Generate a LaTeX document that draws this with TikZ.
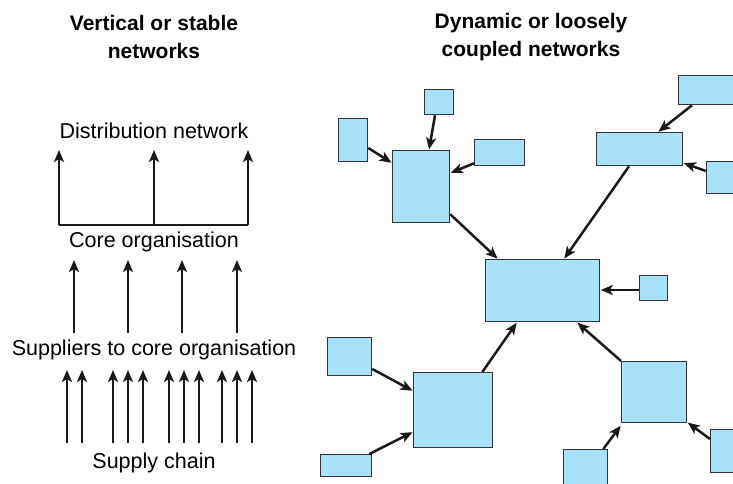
\documentclass[tikz,border=0pt]{standalone}
\usepackage{fontspec}
\setmainfont{Liberation Sans}
\usepackage{tikz}
\usetikzlibrary{arrows.meta,positioning}

\definecolor{boxblue}{RGB}{169,224,250}
\definecolor{boxline}{RGB}{50,52,56}

\tikzset{
  label/.style={font=\fontsize{21.5}{27}\selectfont, inner sep=0pt, align=center},
  head/.style={label, font=\fontsize{21}{28}\selectfont\bfseries},
  arr/.style={-{Stealth[length=12pt, width=10pt, inset=3pt]}, line width=2.5pt, black!90},
  link/.style={arr, shorten <=0pt, shorten >=0.5pt},
  org/.style={draw=boxline, line width=1.3pt, fill=boxblue, anchor=north west,
    inner sep=0pt},
}

\newcommand{\orgbox}[5]{% name, x0, y0, x1, y1
  \node[org, minimum width={#4-#2}, minimum height={#5-#3}] (#1) at (#2,#3) {};}

\begin{document}
\begin{tikzpicture}[x=1pt, y=-1pt]
\useasboundingbox (0,0) rectangle (733,483);
\clip (0,0) rectangle (733,483);

% Headings
\node[head] (vhead) at (154,37) {Vertical or stable\\networks};
\node[head] (dhead) at (531,37) {Dynamic or loosely\\coupled networks};

% Vertical network labels
\node[label] (distr) at (154,131) {Distribution network};
\node[label] (core) at (154,242) {Core organisation};
\node[label] (supp) at (154,350) {Suppliers to core organisation};
\node[label] (chain) at (154,463) {Supply chain};

% Levels for the arrows
\coordinate (distrbot) at (0,150);
\coordinate (corebar) at (0,225);
\coordinate (coretop) at (0,260);
\coordinate (suppbase) at (0,333);
\coordinate (supptop) at (0,370);
\coordinate (chainbase) at (0,443);

% Distribution arrows
\draw[line width=2.5pt, black!90] (59,0 |- corebar) -- (248,0 |- corebar);
\foreach \x in {59,154,248}
  \draw[arr] (\x,0 |- corebar) -- (\x,0 |- distrbot);

% Core arrows
\foreach \x in {74,128,182,237}
  \draw[arr] (\x,0 |- suppbase) -- (\x,0 |- coretop);

% Supply chain arrows
\foreach \x in {67,82,113,128,143,169,184,199,222,237,252}
  \draw[arr] (\x,0 |- chainbase) -- (\x,0 |- supptop);

% Loosely coupled boxes
\orgbox{hub}{485}{259}{599}{321}
\orgbox{nw}{392}{150}{449}{222}
\orgbox{nwtop}{424}{89}{453}{114}
\orgbox{nwleft}{338}{118}{367}{161}
\orgbox{nwright}{474}{139}{524}{165}
\orgbox{ne}{596}{132}{682}{165}
\orgbox{netop}{678}{75}{750}{104}
\orgbox{neright}{706}{161}{750}{193}
\orgbox{east}{639}{275}{667}{300}
\orgbox{sw}{413}{372}{492}{447}
\orgbox{swtop}{327}{337}{371}{375}
\orgbox{swbot}{320}{454}{371}{476}
\orgbox{se}{621}{361}{686}{422}
\orgbox{sebot}{563}{449}{607}{500}
\orgbox{seright}{710}{429}{750}{472}

% Links
\draw[link] ([xshift=11pt]nwtop.south west) -- ([xshift=37pt]nw.north west);
\draw[link] ([yshift=-30pt]nwleft.north east) -- ([yshift=-13pt]nw.north west);
\draw[link] ([yshift=3pt]nwright.south west) -- ([yshift=-23pt]nw.north east);
\draw[link] ([yshift=9pt]nw.south east) -- ([xshift=13pt]hub.north west);
\draw[link] ([xshift=33pt]ne.south west) -- ([xshift=79pt]hub.north west);
\draw[link] ([xshift=14pt]netop.south west) -- ([xshift=62pt]ne.north west);
\draw[link] ([yshift=-10pt]neright.north west) -- ([yshift=-31pt]ne.north east);
\draw[link] ([yshift=-15pt]east.north west) -- ([yshift=-15pt]east.north west -| hub.east);
\draw[link] ([yshift=-32pt]swtop.north east) -- ([yshift=-19pt]sw.north west);
\draw[link] ([xshift=-3pt]swbot.north east) -- ([yshift=-60pt]sw.north west);
\draw[link] ([xshift=-11pt]sw.north east) -- ([xshift=32pt]hub.south west);
\draw[link] (se.north west) -- ([xshift=92pt]hub.south west);
\draw[link] ([xshift=-5pt]sebot.north east) -- ([yshift=-2pt]se.south west);
\draw[link] ([yshift=-10pt]seright.north west) -- ([yshift=1pt]se.south east);
\end{tikzpicture}
\end{document}
